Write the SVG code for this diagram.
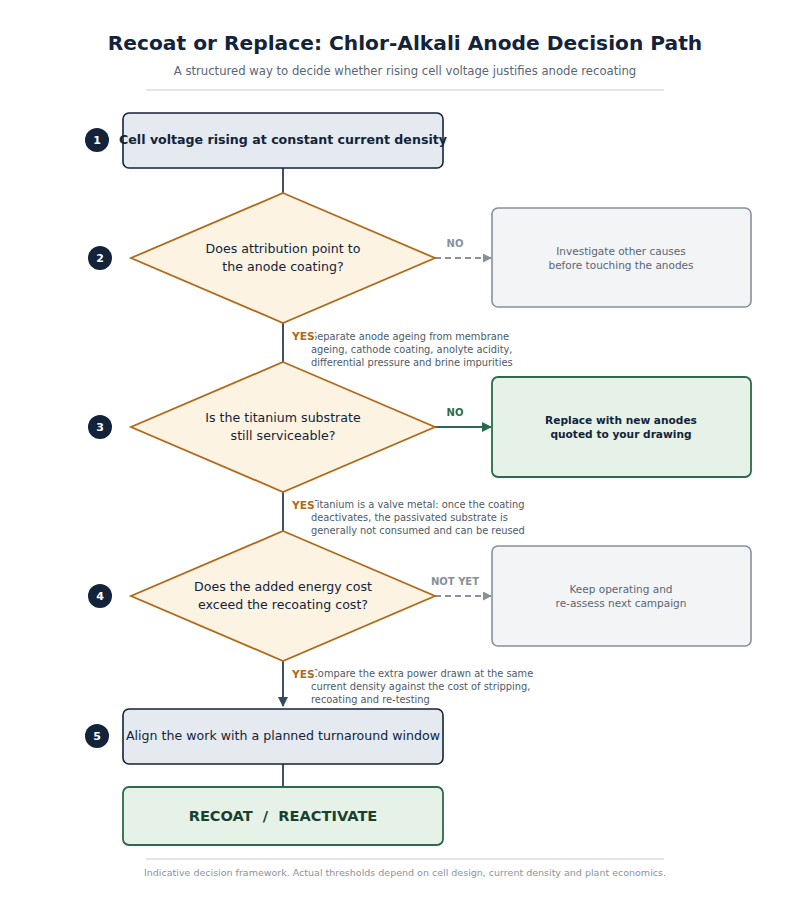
<svg xmlns="http://www.w3.org/2000/svg" width="800" height="900" viewBox="0 0 800 900">
<defs>
<style>
text{font-family:"DejaVu Sans","Liberation Sans",sans-serif;}
.title{font-size:20.2px;font-weight:bold;fill:#13233a;text-anchor:middle;}
.sub{font-size:11.65px;fill:#5a6675;text-anchor:middle;}
.rule{stroke:#d8dee3;stroke-width:1.5;}
.proc{fill:#e4eaf0;stroke:#13233a;stroke-width:1.6;}
.dec{fill:#fcf3e3;stroke:#b06a1a;stroke-width:1.8;}
.alt{fill:#f2f4f6;stroke:#87919a;stroke-width:1.6;}
.good{fill:#e6f2e8;stroke:#2b6a4a;stroke-width:1.8;}
.badge{fill:#13233a;}
.bnum{font-size:11px;font-weight:bold;fill:#ffffff;text-anchor:middle;}
.ptxt{font-size:12.6px;fill:#13233a;text-anchor:middle;}
.dtxt{font-size:12.6px;fill:#13233a;text-anchor:middle;}
.atxt{font-size:10.5px;fill:#5a6675;text-anchor:middle;}
.gtxt{font-size:10.6px;font-weight:bold;fill:#13233a;text-anchor:middle;}
.note{font-size:9.85px;fill:#4e5a66;}
.yes{font-size:10.7px;font-weight:bold;fill:#b06a1a;stroke:#ffffff;stroke-width:3;paint-order:stroke;}
.nolbl{font-size:10px;font-weight:bold;fill:#87919a;text-anchor:middle;}
.nogreen{font-size:10px;font-weight:bold;fill:#2b6a4a;text-anchor:middle;}
.line{stroke:#13233a;stroke-width:1.6;fill:none;}
.dash{stroke:#87919a;stroke-width:1.8;stroke-dasharray:6 4;fill:none;}
.gline{stroke:#2b6a4a;stroke-width:1.8;fill:none;}
.foot{font-size:9.5px;fill:#8a949c;text-anchor:middle;}
</style>
<marker id="ahGray" viewBox="0 0 10 10" refX="9" refY="5" markerWidth="9" markerHeight="9" markerUnits="userSpaceOnUse" orient="auto"><path d="M0,0 L10,5 L0,10 z" fill="#87919a"/></marker>
<marker id="ahGreen" viewBox="0 0 10 10" refX="9" refY="5" markerWidth="10" markerHeight="10" markerUnits="userSpaceOnUse" orient="auto"><path d="M0,0 L10,5 L0,10 z" fill="#2b6a4a"/></marker>
<marker id="ahDark" viewBox="0 0 10 10" refX="9" refY="5" markerWidth="10" markerHeight="10" markerUnits="userSpaceOnUse" orient="auto"><path d="M0,0 L10,5 L0,10 z" fill="#2f4a63"/></marker>
</defs>
<rect width="800" height="900" fill="#ffffff"/>

<g id="header">
<text class="title" x="405" y="50">Recoat or Replace: Chlor-Alkali Anode Decision Path</text>
<text class="sub" x="405" y="75">A structured way to decide whether rising cell voltage justifies anode recoating</text>
<line class="rule" x1="146" y1="90" x2="664" y2="90"/>
</g>

<g id="connectors">
<line class="line" x1="283" y1="168" x2="283" y2="193"/>
<line class="line" x1="283" y1="323" x2="283" y2="362"/>
<line class="line" x1="283" y1="492" x2="283" y2="531"/>
<line class="line" x1="283" y1="661" x2="283" y2="706" stroke="#2f4a63" marker-end="url(#ahDark)"/>
<line class="line" x1="283" y1="764" x2="283" y2="787"/>
<line class="dash" x1="435" y1="258" x2="491" y2="258" marker-end="url(#ahGray)"/>
<line class="gline" x1="435" y1="427" x2="491" y2="427" marker-end="url(#ahGreen)"/>
<line class="dash" x1="435" y1="596" x2="491" y2="596" marker-end="url(#ahGray)"/>
<text class="nolbl" x="455" y="247">NO</text>
<text class="nogreen" x="455" y="416">NO</text>
<text class="nolbl" x="455" y="585">NOT YET</text>
<text class="note" x="311" y="340">Separate anode ageing from membrane</text>
<text class="note" x="311" y="353">ageing, cathode coating, anolyte acidity,</text>
<text class="note" x="311" y="366">differential pressure and brine impurities</text>
<text class="yes" x="292" y="340">YES</text>
<text class="note" x="311" y="508">Titanium is a valve metal: once the coating</text>
<text class="note" x="311" y="521">deactivates, the passivated substrate is</text>
<text class="note" x="311" y="534">generally not consumed and can be reused</text>
<text class="yes" x="292" y="509">YES</text>
<text class="note" x="311" y="677">Compare the extra power drawn at the same</text>
<text class="note" x="311" y="690">current density against the cost of stripping,</text>
<text class="note" x="311" y="703">recoating and re-testing</text>
<text class="yes" x="292" y="678">YES</text>
</g>

<g id="n1">
<rect class="proc" x="123" y="113" width="320" height="55" rx="6"/>
<text class="ptxt" x="283" y="144" font-weight="bold">Cell voltage rising at constant current density</text>
<circle class="badge" cx="97" cy="140" r="12"/>
<text class="bnum" x="97" y="144">1</text>
</g>

<g id="n2">
<polygon class="dec" points="283,193 435,258 283,323 131,258"/>
<text class="dtxt" x="283" y="253">Does attribution point to</text>
<text class="dtxt" x="283" y="271">the anode coating?</text>
<circle class="badge" cx="100" cy="258" r="12"/>
<text class="bnum" x="100" y="262">2</text>
</g>

<g id="n2no">
<rect class="alt" x="492" y="208" width="259" height="99" rx="6"/>
<text class="atxt" x="621" y="255">Investigate other causes</text>
<text class="atxt" x="621" y="269">before touching the anodes</text>
</g>

<g id="n3">
<polygon class="dec" points="283,362 435,427 283,492 131,427"/>
<text class="dtxt" x="283" y="422">Is the titanium substrate</text>
<text class="dtxt" x="283" y="440">still serviceable?</text>
<circle class="badge" cx="100" cy="427" r="12"/>
<text class="bnum" x="100" y="431">3</text>
</g>

<g id="n3no">
<rect class="good" x="492" y="377" width="259" height="100" rx="6"/>
<text class="gtxt" x="621" y="424">Replace with new anodes</text>
<text class="gtxt" x="621" y="438">quoted to your drawing</text>
</g>

<g id="n4">
<polygon class="dec" points="283,531 435,596 283,661 131,596"/>
<text class="dtxt" x="283" y="591">Does the added energy cost</text>
<text class="dtxt" x="283" y="609">exceed the recoating cost?</text>
<circle class="badge" cx="100" cy="596" r="12"/>
<text class="bnum" x="100" y="600">4</text>
</g>

<g id="n4no">
<rect class="alt" x="492" y="546" width="259" height="100" rx="6"/>
<text class="atxt" x="621" y="593">Keep operating and</text>
<text class="atxt" x="621" y="607">re-assess next campaign</text>
</g>

<g id="n5">
<rect class="proc" x="123" y="709" width="320" height="55" rx="6"/>
<text class="ptxt" x="283" y="740">Align the work with a planned turnaround window</text>
<circle class="badge" cx="97" cy="736" r="12"/>
<text class="bnum" x="97" y="740">5</text>
</g>

<g id="n6">
<rect class="good" x="123" y="787" width="320" height="58" rx="6" stroke-width="2"/>
<text x="283" y="821" font-size="14.6" font-weight="bold" fill="#1b4030" text-anchor="middle" xml:space="preserve">RECOAT  /  REACTIVATE</text>
</g>

<g id="footer">
<line class="rule" x1="146" y1="859" x2="664" y2="859"/>
<text class="foot" x="405" y="876">Indicative decision framework. Actual thresholds depend on cell design, current density and plant economics.</text>
</g>
</svg>
